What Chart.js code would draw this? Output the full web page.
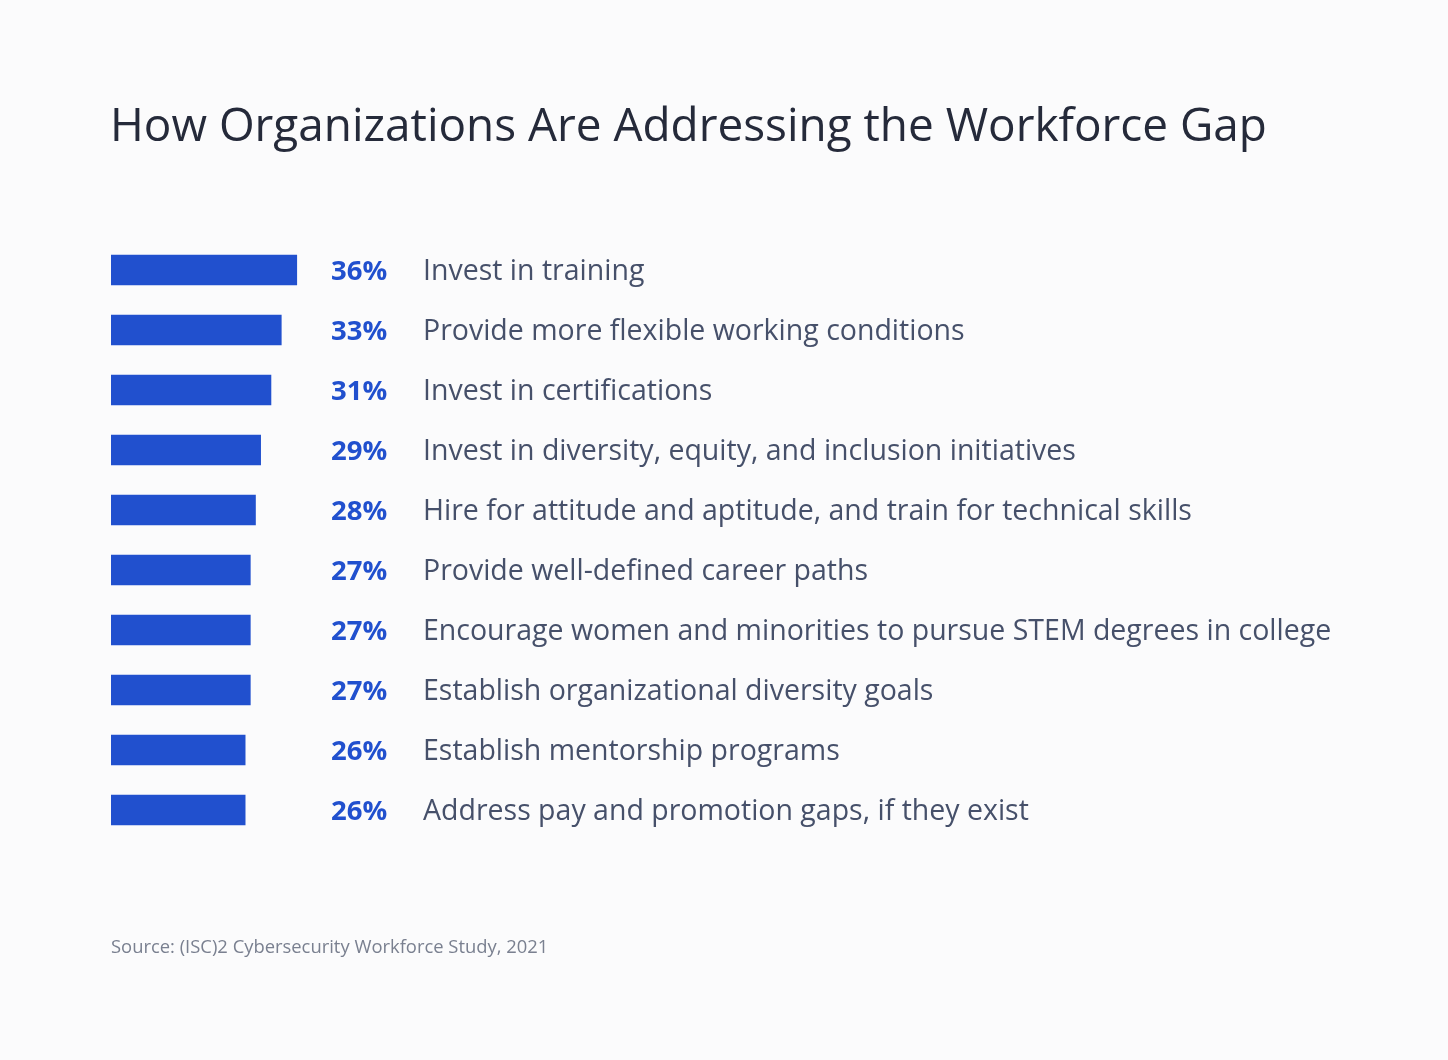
<!DOCTYPE html>
<html>
<head>
<meta charset="utf-8">
<script src="https://cdn.jsdelivr.net/npm/chart.js@4/dist/chart.umd.min.js"></script>
<style>
  html, body { margin: 0; padding: 0; background: #fbfbfc; }
  #wrap { position: relative; width: 1448px; height: 1060px; }
  #title { position: absolute; left: 110px; top: 92px; margin: 0;
    font: 400 45.9px "Open Sans", sans-serif; color: #252a3a; white-space: nowrap; }
  #source { position: absolute; left: 111px; top: 933px; margin: 0;
    font: 400 18.4px "Open Sans", sans-serif; color: #7a8090; white-space: nowrap; }
  canvas { position: absolute; left: 0; top: 0; }
</style>
</head>
<body>
<div id="wrap">
  <canvas id="chart" width="1448" height="1060"></canvas>
  <h1 id="title">How Organizations Are Addressing the Workforce Gap</h1>
  <p id="source">Source: (ISC)2 Cybersecurity Workforce Study, 2021</p>
</div>
<script>
// -------------------------------
// Data
// -------------------------------
const categories = [
    "Invest in training",
    "Provide more flexible working conditions",
    "Invest in certifications",
    "Invest in diversity, equity, and inclusion initiatives",
    "Hire for attitude and aptitude, and train for technical skills",
    "Provide well-defined career paths",
    "Encourage women and minorities to pursue STEM degrees in college",
    "Establish organizational diversity goals",
    "Establish mentorship programs",
    "Address pay and promotion gaps, if they exist"
];
const values = [36, 33, 31, 29, 28, 27, 27, 27, 26, 26];

const BLUE = "#2150ce";

// -------------------------------
// Label plugin: percent + category text beside each bar
// -------------------------------
const rowLabels = {
    id: "rowLabels",
    afterDatasetsDraw(chart) {
        const c = chart.ctx;
        const meta = chart.getDatasetMeta(0);
        c.save();
        c.textBaseline = "middle";
        meta.data.forEach((bar, i) => {
            c.fillStyle = BLUE;
            c.font = "700 27.5px 'Open Sans', sans-serif";
            c.fillText(values[i] + "%", 331, bar.y + 2);
            c.fillStyle = "#46506a";
            c.font = "400 28.5px 'Open Sans', sans-serif";
            c.fillText(categories[i], 423, bar.y + 1.5);
        });
        c.restore();
    }
};

// -------------------------------
// Chart.js Setup
// -------------------------------
new Chart(document.getElementById("chart"), {
    type: "bar",
    data: {
        labels: categories,
        datasets: [{
            data: values,
            backgroundColor: BLUE,
            barThickness: 30
        }]
    },
    options: {
        indexAxis: "y",
        responsive: false,
        animation: false,
        layout: { padding: { left: 111, right: 821, top: 240, bottom: 220 } },
        plugins: { legend: { display: false }, tooltip: { enabled: false } },
        scales: {
            x: { display: false, min: 0, max: 100 },
            y: { display: false }
        }
    },
    plugins: [rowLabels]
});
</script>
</body>
</html>
